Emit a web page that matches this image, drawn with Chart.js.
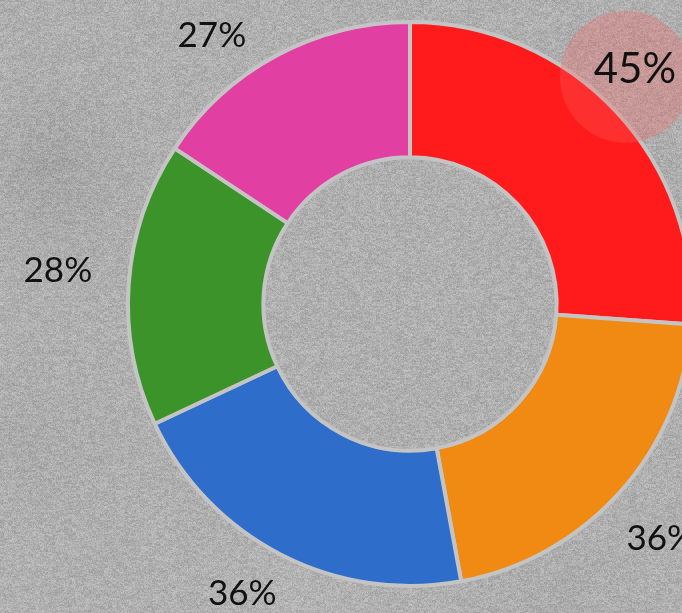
<!DOCTYPE html>
<html>
<head>
<meta charset="utf-8">
<script src="https://cdn.jsdelivr.net/npm/chart.js@4"></script>
<style>
  html, body { margin: 0; padding: 0; width: 682px; height: 613px; overflow: hidden; background: #adadad; }
  #wrap { position: relative; width: 820px; height: 613px; }
  #bg, #donut { position: absolute; left: 0; top: 0; }
  #bg { filter: blur(0.6px); }
</style>
</head>
<body>
<div id="wrap">
  <canvas id="bg" width="820" height="613"></canvas>
  <canvas id="donut" width="820" height="613"></canvas>
</div>
<script>
// Segment values and their printed labels
const categories = ['A', 'B', 'C', 'D', 'E'];
const values = [45, 36, 36, 28, 27];
const valueLabels = ['45%', '36%', '36%', '28%', '27%'];
const sliceColors = ['#ff1b1b', '#f08a12', '#2f6dcb', '#3b9329', '#e23fa2'];
const highlightIndex = 0;
// Small text nudges so labels sit clear of the ring
const labelNudge = [[-11, -15], [2, 12], [-15, -7], [-19, -9], [-40, 26]];

// Concrete-like backdrop: soft cloudy tones plus fine grain
(function paintBackdrop() {
  const c = document.getElementById('bg');
  const ctx = c.getContext('2d');
  const w = c.width, h = c.height;
  ctx.fillStyle = '#afafaf';
  ctx.fillRect(0, 0, w, h);
  const clouds = [
    [50, 170, 150, 'rgba(135,135,135,0.30)'],
    [30, 440, 130, 'rgba(150,150,150,0.22)'],
    [640, 200, 120, 'rgba(145,145,145,0.22)'],
    [560, 600, 140, 'rgba(150,150,150,0.20)'],
    [300, 590, 150, 'rgba(195,195,195,0.22)']
  ];
  clouds.forEach(([x, y, r, col]) => {
    const g = ctx.createRadialGradient(x, y, 0, x, y, r);
    g.addColorStop(0, col);
    g.addColorStop(1, 'rgba(175,175,175,0)');
    ctx.fillStyle = g;
    ctx.fillRect(0, 0, w, h);
  });
  const img = ctx.getImageData(0, 0, w, h);
  const d = img.data;
  function hash(x, y) {
    let n = (x * 374761393 + y * 668265263) | 0;
    n = (n ^ (n >>> 13)) * 1274126177 | 0;
    return ((n ^ (n >>> 16)) >>> 0) / 4294967295;
  }
  for (let y = 0; y < h; y++) {
    for (let x = 0; x < w; x++) {
      const i = (y * w + x) * 4;
      const v = (hash(x, y) - 0.5) * 26 + (hash(x >> 2, y >> 1) - 0.5) * 16;
      d[i] = Math.max(0, Math.min(255, d[i] + v));
      d[i + 1] = Math.max(0, Math.min(255, d[i + 1] + v));
      d[i + 2] = Math.max(0, Math.min(255, d[i + 2] + v));
    }
  }
  ctx.putImageData(img, 0, 0);
})();

// Value labels placed outside each arc along its mid angle
const outerLabels = {
  id: 'outerLabels',
  afterDatasetsDraw(chart) {
    const ctx = chart.ctx;
    const arcs = chart.getDatasetMeta(0).data;
    arcs.forEach((arc, i) => {
      const { x, y, startAngle, endAngle, outerRadius } = arc.getProps(['x', 'y', 'startAngle', 'endAngle', 'outerRadius'], true);
      const mid = (startAngle + endAngle) / 2;
      const big = i === highlightIndex;
      const r = outerRadius + (big ? 40 : 52);
      const lx = x + Math.cos(mid) * r + labelNudge[i][0];
      const ly = y + Math.sin(mid) * r + labelNudge[i][1];
      ctx.save();
      if (big) {
        ctx.beginPath();
        ctx.arc(lx - 9, ly + 7, 66, 0, Math.PI * 2);
        ctx.fillStyle = 'rgba(250,95,95,0.30)';
        ctx.fill();
      }
      ctx.fillStyle = '#111111';
      ctx.textAlign = 'center';
      ctx.textBaseline = 'middle';
      ctx.font = (big ? '42px' : '35px') + ' Lato, "Open Sans", sans-serif';
      ctx.fillText(valueLabels[i], lx, ly);
      ctx.restore();
    });
  }
};

new Chart(document.getElementById('donut'), {
  type: 'doughnut',
  data: {
    labels: categories,
    datasets: [{
      data: values,
      backgroundColor: sliceColors,
      borderColor: '#c4c4c4',
      borderWidth: 4,
      hoverOffset: 0
    }]
  },
  options: {
    responsive: false,
    animation: false,
    cutout: '52%',
    layout: { padding: { top: 20, bottom: 25, left: 0, right: 0 } },
    plugins: { legend: { display: false }, tooltip: { enabled: false } },
    events: []
  },
  plugins: [outerLabels]
});
</script>
</body>
</html>
